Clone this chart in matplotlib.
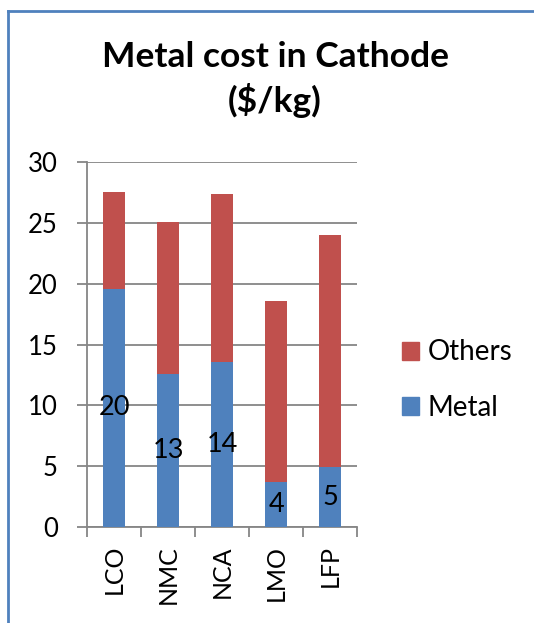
import matplotlib
matplotlib.use("Agg")
import matplotlib.pyplot as plt
from matplotlib.lines import Line2D
from matplotlib.patches import Patch

plt.rcParams['font.family'] = ['Lato', 'DejaVu Sans']

categories = ["LCO", "NMC", "NCA", "LMO", "LFP"]
metal = [19.6, 12.6, 13.6, 3.7, 4.9]
others = [7.9, 12.5, 13.8, 14.9, 19.1]
yticks = [0, 5, 10, 15, 20, 25, 30]

c_metal = "#4F81BD"
c_others = "#C0504D"
grid_c = "#868686"

fig = plt.figure(figsize=(5.34, 6.23), dpi=100)
ax = fig.add_axes([0.163, 0.154, 0.506, 0.586])

x = list(range(len(categories)))
ax.bar(x, metal, width=0.4, color=c_metal, zorder=3)
ax.bar(x, others, bottom=metal, width=0.4, color=c_others, zorder=3)

for xi, m in zip(x, metal):
    ax.text(xi, m / 2, f"{m:.0f}", ha="center", va="center", fontsize=19.5, color="black", zorder=4)

ax.set_xlim(-0.5, len(categories) - 0.5)
ax.set_ylim(0, 30)
ax.set_yticks(yticks)
ax.set_yticklabels([str(v) for v in yticks], fontsize=18.5)
ax.yaxis.grid(True, color=grid_c, linewidth=1.3, zorder=0)
ax.tick_params(axis="y", length=7, width=1.3, color=grid_c, pad=14)

ax.set_xticks(x)
ax.set_xticklabels(categories, rotation=90, fontsize=18)
ax.set_xticks([i - 0.5 for i in range(len(categories) + 1)], minor=True)
ax.tick_params(axis="x", which="major", length=0, pad=13)
ax.tick_params(axis="x", which="minor", length=7, width=1.3, color=grid_c)

for s in ["top", "right"]:
    ax.spines[s].set_visible(False)
for s in ["left", "bottom"]:
    ax.spines[s].set_color(grid_c)
    ax.spines[s].set_linewidth(1.3)

fig.text(0.515, 0.908, "Metal cost in Cathode", ha="center", va="center",
         fontsize=25.5, fontweight="bold")
fig.text(0.515, 0.838, "($/kg)", ha="center", va="center",
         fontsize=25.5, fontweight="bold")

handles = [Patch(color=c_others, label="Others"), Patch(color=c_metal, label="Metal")]
fig.legend(handles=handles, loc="center left", bbox_to_anchor=(0.753, 0.39),
           frameon=False, fontsize=20, handlelength=0.61, handleheight=0.61,
           handletextpad=0.32, labelspacing=1.05, borderpad=0, borderaxespad=0)

# frame lines along the top and left edges
fig.add_artist(Line2D([8 / 534, 1.0], [1 - 11 / 623, 1 - 11 / 623],
                      transform=fig.transFigure, color=c_metal, linewidth=2))
fig.add_artist(Line2D([8 / 534, 8 / 534], [0.0, 1 - 11 / 623],
                      transform=fig.transFigure, color=c_metal, linewidth=2))

fig.savefig("out.png", dpi=100, facecolor="white")
